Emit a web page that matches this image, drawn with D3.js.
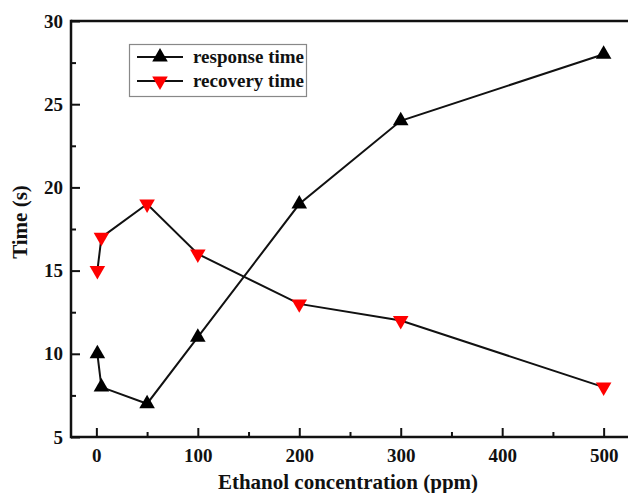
<!DOCTYPE html>
<html>
<head>
<meta charset="utf-8">
<script src="https://cdn.jsdelivr.net/npm/d3@7/dist/d3.min.js"></script>
<style>
  html, body { margin: 0; padding: 0; background: #fff; }
  svg { display: block; }
  text { font-family: "Liberation Serif", "Times New Roman", serif; font-weight: bold; fill: #111; }
</style>
</head>
<body>
<svg id="chart" width="628" height="493"></svg>
<script>
// Ethanol concentration (ppm)
const concentrations = [1, 5, 50, 100, 200, 300, 500];
// Response and recovery times (s)
const responseTime = [10, 8, 7, 11, 19, 24, 28];
const recoveryTime = [15, 17, 19, 16, 13, 12, 8];
const xTicks = [0, 100, 200, 300, 400, 500];
const yTicks = [5, 10, 15, 20, 25, 30];
const seriesNames = ["response time", "recovery time"];

const svg = d3.select("#chart");
const margin = { left: 71, top: 21, right: 629, bottom: 437 };

const x = d3.scaleLinear().domain([-25, 525]).range([margin.left, margin.right]);
const y = d3.scaleLinear().domain([5, 30]).range([margin.bottom, margin.top]);

// frame: left, bottom and top edges (the right edge sits past the canvas)
const frame = svg.append("g").attr("stroke", "#111").attr("stroke-width", 2.5);
frame.append("line").attr("x1", margin.left).attr("x2", margin.left)
  .attr("y1", margin.top - 1.25).attr("y2", margin.bottom + 1.25);
frame.append("line").attr("x1", margin.left).attr("x2", 640)
  .attr("y1", margin.bottom).attr("y2", margin.bottom);
frame.append("line").attr("x1", margin.left).attr("x2", 640)
  .attr("y1", margin.top).attr("y2", margin.top);

const tickFont = g => g.selectAll("text")
  .style("font-size", "19px").style("font-family", "Liberation Serif")
  .style("font-weight", "bold").attr("fill", "#111");

// x axis: inward major + minor ticks
const xAxis = svg.append("g").attr("transform", `translate(0,${margin.bottom})`);
xAxis.call(d3.axisBottom(x).tickValues(xTicks).tickSize(-9).tickFormat(d3.format("d")))
  .call(g => g.select(".domain").remove())
  .call(g => g.selectAll("line").attr("stroke", "#111").attr("stroke-width", 2))
  .call(g => g.selectAll("text").attr("y", 12).attr("dy", "0.71em"))
  .call(tickFont);
xAxis.append("g").call(d3.axisBottom(x).tickValues([50, 150, 250, 350, 450]).tickSize(-5).tickFormat(""))
  .call(g => g.select(".domain").remove())
  .call(g => g.selectAll("line").attr("stroke", "#111").attr("stroke-width", 2));

// y axis: inward major + minor ticks
const yAxis = svg.append("g").attr("transform", `translate(${margin.left},0)`);
yAxis.call(d3.axisLeft(y).tickValues(yTicks).tickSize(-9).tickFormat(d3.format("d")))
  .call(g => g.select(".domain").remove())
  .call(g => g.selectAll("line").attr("stroke", "#111").attr("stroke-width", 2))
  .call(g => g.selectAll("text").attr("x", -8))
  .call(tickFont);
yAxis.append("g").call(d3.axisLeft(y).tickValues([7.5, 12.5, 17.5, 22.5, 27.5]).tickSize(-5).tickFormat(""))
  .call(g => g.select(".domain").remove())
  .call(g => g.selectAll("line").attr("stroke", "#111").attr("stroke-width", 2));

// axis titles
svg.append("text")
  .attr("x", 348).attr("y", 489)
  .attr("text-anchor", "middle")
  .style("font-size", "21px")
  .text("Ethanol concentration (ppm)");
svg.append("text")
  .attr("transform", "translate(27,222) rotate(-90)")
  .attr("text-anchor", "middle")
  .style("font-size", "21px")
  .text("Time (s)");

const line = d3.line().x(d => x(d[0])).y(d => y(d[1]));
const tri = d3.symbol().type(d3.symbolTriangle).size(105);

const series = [
  { name: seriesNames[0], values: responseTime, fill: "#000", rot: 0 },
  { name: seriesNames[1], values: recoveryTime, fill: "#ff0000", rot: 180 }
];

series.forEach(s => {
  const pts = concentrations.map((c, i) => [c, s.values[i]]);
  svg.append("path").datum(pts)
    .attr("d", line).attr("fill", "none")
    .attr("stroke", "#111").attr("stroke-width", 2);
  svg.append("g").selectAll("path").data(pts).join("path")
    .attr("d", tri)
    .attr("transform", d => `translate(${x(d[0])},${y(d[1])}) rotate(${s.rot})`)
    .attr("fill", s.fill);
});

// legend
const legend = svg.append("g");
legend.append("rect")
  .attr("x", 129.5).attr("y", 44.5).attr("width", 177).attr("height", 52)
  .attr("fill", "#fff").attr("stroke", "#888").attr("stroke-width", 1.2);
series.forEach((s, i) => {
  const ly = 57 + i * 24;
  legend.append("line").attr("x1", 137).attr("x2", 183).attr("y1", ly).attr("y2", ly)
    .attr("stroke", "#111").attr("stroke-width", 2);
  legend.append("path").attr("d", tri)
    .attr("transform", `translate(160,${ly}) rotate(${s.rot})`).attr("fill", s.fill);
  legend.append("text").attr("x", 193).attr("y", ly).attr("dy", "0.32em")
    .style("font-size", "19px").text(s.name);
});
</script>
</body>
</html>
